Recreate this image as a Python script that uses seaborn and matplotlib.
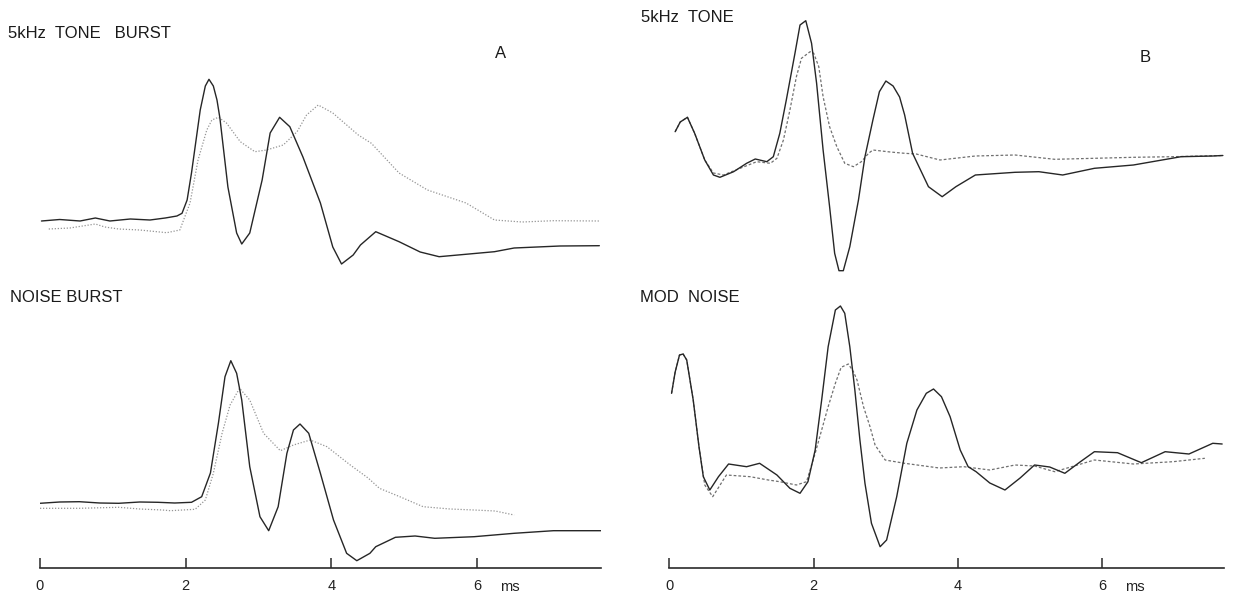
import numpy as np
import pandas as pd
import seaborn as sns
import matplotlib
matplotlib.use("Agg")
import matplotlib.pyplot as plt

# ---- traces: time (ms) and amplitude (arbitrary units) ----
# A, top: 5kHz tone burst
a_tone_solid_t = [0.02, 0.27, 0.55, 0.76, 0.96, 1.24, 1.51, 1.72, 1.88, 1.95, 2.02, 2.08, 2.20, 2.27, 2.32,
                  2.38, 2.43, 2.47, 2.58, 2.70, 2.77, 2.88, 3.05, 3.16, 3.29, 3.43, 3.61, 3.85, 4.02, 4.14,
                  4.30, 4.40, 4.61, 4.93, 5.22, 5.48, 6.24, 6.51, 7.14, 7.68]
a_tone_solid_v = [0, 1.5, 0, 3, 0, 2, 1, 3, 5, 7.7, 21, 48, 111, 135, 141.7,
                  135, 121, 103, 34, -12, -23, -12, 41, 88, 103.7, 94.3, 64, 18, -26, -43,
                  -34, -24, -10.7, -20.7, -31, -35.7, -30.7, -27, -25, -24.7]
a_tone_dot_t = [0.12, 0.41, 0.76, 0.89, 1.08, 1.37, 1.74, 1.92, 2.06, 2.17, 2.29, 2.36, 2.45, 2.56,
                2.75, 2.95, 3.11, 3.34, 3.53, 3.66, 3.82, 4.02, 4.37, 4.55, 4.93, 5.32, 5.85, 6.24,
                6.62, 7.05, 7.68]
a_tone_dot_v = [-8, -7, -3, -6, -8, -9, -11.7, -9, 18, 61, 91, 101, 103.7, 98,
                79.3, 69.3, 71, 76, 89.3, 106, 116, 108, 86, 77.7, 48, 31, 18, 1,
                -1, 0.3, 0]

# A, bottom: noise burst
a_noise_solid_t = [0.0, 0.27, 0.54, 0.82, 1.08, 1.37, 1.62, 1.85, 2.08, 2.22, 2.34, 2.45, 2.54, 2.62,
                   2.70, 2.77, 2.88, 3.02, 3.14, 3.27, 3.39, 3.48, 3.57, 3.69, 3.85, 4.03, 4.21, 4.35,
                   4.53, 4.61, 4.88, 5.15, 5.42, 5.96, 6.51, 7.05, 7.70]
a_noise_solid_v = [-1.3, 0, 0.3, -1, -1.3, 0, -0.3, -1, -0.3, 5.3, 29, 79, 125.3, 141.3,
                   128.7, 102, 35.3, -14.7, -28.7, -4.7, 48.7, 72, 78, 68.7, 28.7, -18, -51.3, -58.7,
                   -51.3, -44.7, -35.3, -34, -36.3, -34.7, -31.3, -28.7, -28.7]
a_noise_dot_t = [0.0, 0.54, 1.08, 1.37, 1.68, 1.79, 2.13, 2.27, 2.38, 2.50, 2.61, 2.74, 2.88, 3.07,
                 3.30, 3.48, 3.71, 3.94, 4.26, 4.51, 4.66, 4.95, 5.26, 5.63, 5.96, 6.25, 6.51]
a_noise_dot_v = [-6.3, -6.3, -5.3, -7, -8, -8.7, -7.3, 2, 28.7, 68.7, 97, 113.7, 102, 68.7,
                 51.3, 57, 62, 55.3, 37, 23.7, 13.7, 5, -4.7, -7, -8, -9, -13]

# B, top: 5kHz tone
b_tone_solid_t = [0.08, 0.15, 0.25, 0.35, 0.49, 0.61, 0.70, 0.89, 1.07, 1.19, 1.35, 1.44, 1.53, 1.62,
                  1.74, 1.81, 1.89, 1.97, 2.04, 2.13, 2.22, 2.29, 2.35, 2.41, 2.50, 2.62, 2.71, 2.82,
                  2.91, 3.00, 3.10, 3.19, 3.26, 3.37, 3.59, 3.78, 3.97, 4.24, 4.79, 5.12, 5.45, 5.89,
                  6.43, 7.09, 7.53, 7.67]
b_tone_solid_v = [89.3, 99, 103.7, 87.7, 61, 46, 43.7, 49.3, 57.7, 62, 59.3, 64.3, 87.7, 121,
                  167.7, 196, 200.3, 177.7, 137.7, 71, 14.3, -32.3, -49.7, -49.7, -25.7, 21, 64.3, 101,
                  129.3, 140, 135, 124, 106, 67.7, 34.3, 24.3, 34.3, 46, 48.7, 49.3, 46, 52.7,
                  56, 64.3, 65, 65.5]
b_tone_dash_t = [0.08, 0.15, 0.25, 0.35, 0.49, 0.61, 0.75, 0.98, 1.21, 1.40, 1.49, 1.58, 1.67, 1.76,
                 1.83, 1.95, 2.00, 2.07, 2.13, 2.22, 2.32, 2.43, 2.55, 2.66, 2.76, 2.82, 3.06, 3.26,
                 3.42, 3.75, 4.24, 4.79, 5.34, 5.89, 6.43, 6.98, 7.67]
b_tone_dash_v = [89.3, 99, 103.7, 87.7, 61, 48, 46, 52.7, 59.3, 57.7, 62.7, 81, 111, 144.3,
                 162.7, 169.3, 167.7, 154.3, 124.3, 94.3, 74.3, 57.7, 54.3, 59.3, 67.7, 71, 69, 67.7,
                 67, 61, 65, 66, 61.7, 62.7, 63.7, 64.3, 65.5]

# B, bottom: modulated noise
b_noise_solid_t = [0.03, 0.08, 0.14, 0.19, 0.24, 0.33, 0.41, 0.47, 0.56, 0.68, 0.82, 1.07, 1.25, 1.49,
                   1.67, 1.81, 1.92, 2.02, 2.11, 2.20, 2.30, 2.37, 2.43, 2.50, 2.57, 2.64, 2.71, 2.80,
                   2.92, 3.01, 3.15, 3.29, 3.43, 3.56, 3.66, 3.77, 3.89, 4.03, 4.14, 4.25, 4.44, 4.65,
                   4.86, 5.06, 5.27, 5.48, 5.69, 5.89, 6.21, 6.54, 6.87, 7.20, 7.53, 7.66]
b_noise_solid_v = [108.7, 130, 147, 148, 142, 102, 55.3, 25.3, 12, 25.3, 38, 35.3, 38.7, 27,
                   13.7, 8.7, 20.3, 52, 102, 155.3, 192, 196, 188.7, 155.3, 112, 62, 18.7, -21.3,
                   -44.7, -38, 5.3, 58.7, 92, 108.7, 113, 105.3, 85.3, 52, 35.3, 30.3, 19, 12,
                   24, 37, 35, 28.7, 40, 50.3, 49.3, 39.3, 50.3, 48, 58.7, 58]
b_noise_dash_t = [0.03, 0.08, 0.14, 0.19, 0.24, 0.33, 0.41, 0.49, 0.60, 0.79, 1.12, 1.37, 1.53, 1.76,
                  1.90, 2.02, 2.11, 2.20, 2.30, 2.38, 2.48, 2.55, 2.60, 2.69, 2.78, 2.85, 2.99, 3.26,
                  3.74, 4.08, 4.44, 4.79, 5.06, 5.34, 5.89, 6.43, 6.98, 7.42]
b_noise_dash_v = [108.7, 130, 147, 148, 142, 102, 55.3, 17, 5.3, 27, 25.3, 22, 20.3, 17,
                  20.3, 48.7, 72, 95.3, 118.7, 134.7, 138, 130.3, 122, 95.3, 75.3, 57, 42, 38.7,
                  34, 35.3, 32, 37, 36, 30.3, 42, 38, 40.3, 43.7]

ticks_ms = [0, 2, 4, 6]
tick_labels = ["0", "2", "4", "6"]

sns.set_style("white")
plt.rcParams["font.family"] = ["Liberation Sans", "DejaVu Sans"]

fig = plt.figure(figsize=(12.44, 5.95), dpi=100)
W, H = 1244, 595

axL = fig.add_axes([40 / W, 27 / H, 560.8 / W, 568 / H])
axR = fig.add_axes([669.4 / W, 27 / H, 554.2 / W, 568 / H])

top_off, bot_off = 347, 66   # vertical placement of the two rows
solid = dict(color="#262626", linewidth=1.0)
dotted = dict(color="#959595", linewidth=0.9, linestyle=(0, (1, 1.4)))
dashed = dict(color="#707070", linewidth=0.9, linestyle=(0, (2.2, 1.6)))

def trace(ax, t, v, off, style):
    sns.lineplot(x=np.array(t), y=np.array(v) + off, ax=ax, estimator=None,
                 sort=False, legend=False, **style)

trace(axL, a_tone_dot_t, a_tone_dot_v, top_off, dotted)
trace(axL, a_tone_solid_t, a_tone_solid_v, top_off, solid)
trace(axL, a_noise_dot_t, a_noise_dot_v, bot_off, dotted)
trace(axL, a_noise_solid_t, a_noise_solid_v, bot_off, solid)

trace(axR, b_tone_dash_t, b_tone_dash_v, top_off, dashed)
trace(axR, b_tone_solid_t, b_tone_solid_v, top_off, solid)
trace(axR, b_noise_dash_t, b_noise_dash_v, bot_off, dashed)
trace(axR, b_noise_solid_t, b_noise_solid_v, bot_off, solid)

for ax, xmax in ((axL, 7.70), (axR, 7.68)):
    ax.set_xlim(0, xmax)
    ax.set_ylim(0, 568)
    ax.patch.set_alpha(0)
    for s in ("top", "right", "left"):
        ax.spines[s].set_visible(False)
    ax.spines["bottom"].set_color("#2a2a2a")
    ax.spines["bottom"].set_linewidth(1.2)
    ax.set_yticks([])
    ax.set_xticks(ticks_ms)
    ax.set_xticklabels(tick_labels)
    ax.tick_params(axis="x", bottom=True, direction="in", length=7.5, width=1.1,
                   color="#2a2a2a", pad=8, labelsize=10.5, labelcolor="#222222")
    ax.set_xlabel("")
    ax.set_ylabel("")
    ax.text(6.45, -19, "ms", ha="center", va="center", fontsize=10.5, color="#222222",
            clip_on=False)

def label(x, y, s, **kw):
    fig.text(x / W, 1 - y / H, s, fontsize=12, color="#1a1a1a", va="center", **kw)

label(8.5, 34, "5kHz  TONE   BURST")
label(10, 297, "NOISE BURST")
label(641, 18, "5kHz  TONE")
label(640, 297, "MOD  NOISE")
label(501, 54, "A", ha="center")
label(1145, 58, "B", ha="center")

fig.savefig("out.png", dpi=100)
